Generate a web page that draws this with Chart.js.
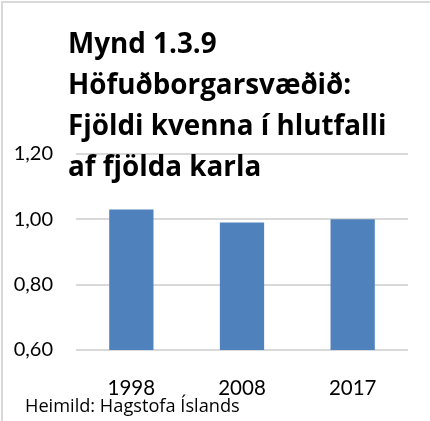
<!DOCTYPE html>
<html>
<head>
<meta charset="utf-8">
<script src="https://cdn.jsdelivr.net/npm/chart.js@4/dist/chart.umd.min.js"></script>
<style>
  html, body { margin: 0; padding: 0; background: #fff; }
  #wrap { position: relative; width: 430px; height: 421px; overflow: hidden; font-family: Lato, sans-serif; }
  #frameTop { position: absolute; left: 1px; top: 1px; width: 429px; height: 2px; background: #d9d9d9; }
  #frameLeft { position: absolute; left: 1px; top: 1px; width: 2px; height: 420px; background: #d9d9d9; }
  #chart { position: absolute; left: 0; top: 0; }
  #title { position: absolute; left: 68px; top: 22px; font-family: "Open Sans", sans-serif; font-weight: bold; font-size: 27.8px; line-height: 41px; color: #000; white-space: nowrap; }
  #source { position: absolute; left: 25px; top: 395px; font-family: "Open Sans", sans-serif; font-size: 18.2px; line-height: 20px; color: #000; white-space: nowrap; }
</style>
</head>
<body>
<div id="wrap">
  <canvas id="chart" width="430" height="421"></canvas>
  <div id="frameTop"></div>
  <div id="frameLeft"></div>
  <div id="title">Mynd 1.3.9<br>Höfuðborgarsvæðið:<br>Fjöldi kvenna í hlutfalli<br>af fjölda karla</div>
  <div id="source">Heimild: Hagstofa Íslands</div>
</div>
<script>
const years = ['1998', '2008', '2017'];
const ratio = [1.03, 0.99, 1.00];   // women per man
const yTicks = [0.6, 0.8, 1.0, 1.2];

const barColor = '#4F81BD';
const gridColor = '#d9d9d9';

const ctx = document.getElementById('chart').getContext('2d');
new Chart(ctx, {
    type: 'bar',
    data: {
        labels: years,
        datasets: [{
            data: ratio,
            backgroundColor: barColor,
            borderWidth: 0,
            barPercentage: 0.4,
            categoryPercentage: 1
        }]
    },
    options: {
        responsive: false,
        animation: false,
        devicePixelRatio: 1,
        layout: { padding: { top: 154, right: 22, left: 0, bottom: 0 } },
        plugins: {
            legend: { display: false },
            tooltip: { enabled: false }
        },
        scales: {
            x: {
                grid: { display: false },
                border: { display: false },
                ticks: { color: '#000', font: { family: 'Lato', size: 20.5 }, padding: 18 },
                afterFit: scale => { scale.height = 71; }
            },
            y: {
                min: yTicks[0],
                max: yTicks[yTicks.length - 1],
                afterBuildTicks: scale => { scale.ticks = yTicks.map(v => ({ value: v })); },
                grid: { color: gridColor, lineWidth: 2, drawTicks: false },
                border: { display: false },
                ticks: {
                    color: '#000',
                    font: { family: 'Lato', size: 20 },
                    padding: 23,
                    callback: v => v.toFixed(2).replace('.', ',')
                },
                afterFit: scale => { scale.width = 76; }
            }
        }
    }
});
</script>
</body>
</html>
